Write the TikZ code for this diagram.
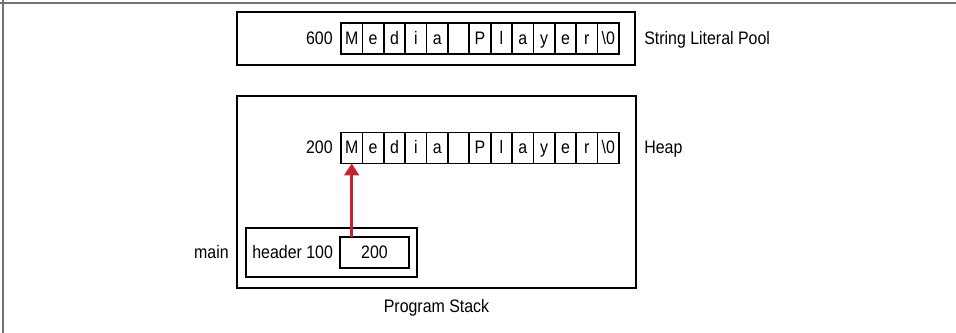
\documentclass[tikz,border=0pt]{standalone}
\usepackage{fontspec}
\setmainfont{Liberation Sans}[FakeStretch=0.88]
\usetikzlibrary{positioning, arrows.meta}
\definecolor{rojoflecha}{RGB}{200,34,46}

\begin{document}
\begin{tikzpicture}[x=0.02cm, y=-0.02cm,
        font=\fontsize{10.3}{12}\selectfont,
        caja/.style={rectangle, draw, line width=1.1pt, outer sep=0pt},
        celda/.style={rectangle, draw, line width=1pt, outer sep=0pt, inner sep=0pt, minimum width=0.4277cm, minimum height=0.62cm, text height=0.8em, text depth=0.15em},
        etiqueta/.style={inner sep=0pt, text height=0.8em, text depth=0.15em},
        marco/.style={draw=black!55, line width=0.8pt},
        flecha/.style={-{Triangle[length=0.24cm, width=0.3cm]}, line width=1.4pt, draw=rojoflecha} % Flecha roja del puntero
    ]
        \useasboundingbox (0,0) rectangle (956,333);

        % Borde de la figura (solo arriba e izquierda)
        \draw[marco] (0,3) -- (956,3);
        \draw[marco] (3,0) -- (3,333);

        % ---------------- POOL DE LITERALES ----------------
        \node[caja, minimum width=7.96cm, minimum height=1.06cm] (pool_box) at (436,38.5) {};

        \node[celda] (pool_m) at (351.7,38.8) {M};
        \node[celda, right=0pt of pool_m] (pool_e1) {e};
        \node[celda, right=0pt of pool_e1] (pool_d) {d};
        \node[celda, right=0pt of pool_d] (pool_i) {i};
        \node[celda, right=0pt of pool_i] (pool_a1) {a};
        \node[celda, right=0pt of pool_a1] (pool_sp) {};
        \node[celda, right=0pt of pool_sp] (pool_p) {P};
        \node[celda, right=0pt of pool_p] (pool_l) {l};
        \node[celda, right=0pt of pool_l] (pool_a2) {a};
        \node[celda, right=0pt of pool_a2] (pool_y) {y};
        \node[celda, right=0pt of pool_y] (pool_e2) {e};
        \node[celda, right=0pt of pool_e2] (pool_r) {r};
        \node[celda, right=0pt of pool_r] (pool_nul) {\textbackslash0};

        % Direccion y nombre del pool
        \node[etiqueta, left=0.16cm of pool_m] (pool_dir) {600};
        \node[etiqueta, right=0.18cm of pool_box] (pool_lbl) {String Literal Pool};

        % ---------------- PILA Y HEAP ----------------
        \node[caja, minimum width=7.98cm, minimum height=3.84cm] (stack_box) at (436.5,192) {};

        \node[celda] (heap_m) at (351.7,148) {M};
        \node[celda, right=0pt of heap_m] (heap_e1) {e};
        \node[celda, right=0pt of heap_e1] (heap_d) {d};
        \node[celda, right=0pt of heap_d] (heap_i) {i};
        \node[celda, right=0pt of heap_i] (heap_a1) {a};
        \node[celda, right=0pt of heap_a1] (heap_sp) {};
        \node[celda, right=0pt of heap_sp] (heap_p) {P};
        \node[celda, right=0pt of heap_p] (heap_l) {l};
        \node[celda, right=0pt of heap_l] (heap_a2) {a};
        \node[celda, right=0pt of heap_a2] (heap_y) {y};
        \node[celda, right=0pt of heap_y] (heap_e2) {e};
        \node[celda, right=0pt of heap_e2] (heap_r) {r};
        \node[celda, right=0pt of heap_r] (heap_nul) {\textbackslash0};

        % Direccion y nombre del heap
        \node[etiqueta, left=0.16cm of heap_m] (heap_dir) {200};
        \node[etiqueta, anchor=west] (heap_lbl) at ([xshift=0.16cm]stack_box.east |- heap_m) {Heap};

        % Marco de main con la variable header
        \node[caja, minimum width=3.42cm, minimum height=0.98cm] (main_frame) at (331.5,252.5) {};
        \node[etiqueta, anchor=west] (header_lbl) at ([xshift=0.12cm]main_frame.west) {header 100};
        \node[caja, minimum width=1.38cm, minimum height=0.62cm] (val_box) at (374.5,252.5) {200};
        \node[etiqueta, anchor=east] (main_lbl) at ([xshift=-0.16cm]stack_box.west |- main_frame) {main};

        % Nombre de la pila
        \node[anchor=base, inner sep=0pt] (stack_lbl) at (436.5,313) {Program Stack};

        % ================= PUNTERO =================
        \draw[flecha] (val_box.north -| heap_m) -- (heap_m.south);

    \end{tikzpicture}
\end{document}
